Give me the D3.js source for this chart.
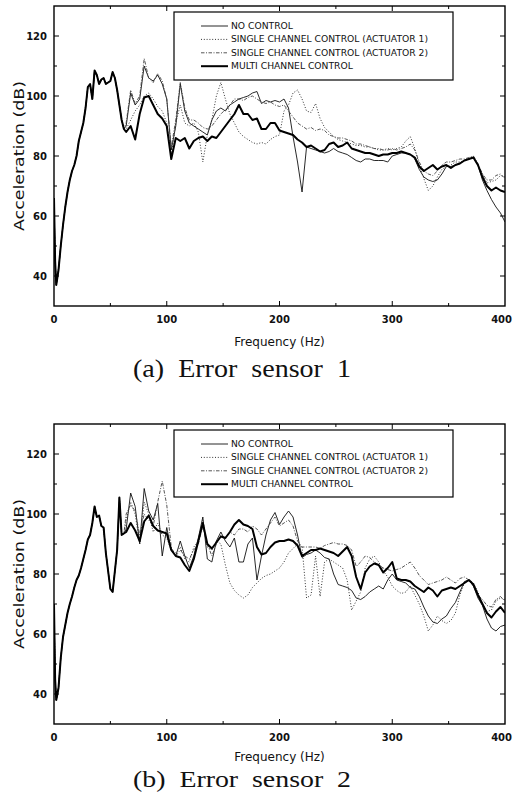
<!DOCTYPE html>
<html>
<head>
<meta charset="utf-8">
<script src="https://cdn.jsdelivr.net/npm/d3@7"></script>
<style>
  body { margin: 0; background: #fff; }
  svg { display: block; }
</style>
</head>
<body>
<div id="chart-area"></div>
<script>
// frequency grid (Hz)
const lowFreq = [0,1,2,4,6,8,10,12,14,16,18,20,22,24,26,28,30,32,34,36,38,40,42,44,46,48,50,52,54,56,58,60,62];
const highFreq = [64,68,72,76,80,84,88,92,96,100,104,108,112,116,120,124,128,132,136,140,
  144,148,152,156,160,164,168,172,176,180,184,188,192,196,200,204,208,212,216,220,
  224,228,232,236,240,244,248,252,256,260,264,268,272,276,280,284,288,292,296,300,
  304,308,312,316,320,324,328,332,336,340,344,348,352,356,360,364,368,372,376,380,
  384,388,392,396,400];
const freq = lowFreq.concat(highFreq);

const seriesNames = ["NO CONTROL", "SINGLE CHANNEL CONTROL (ACTUATOR 1)",
  "SINGLE CHANNEL CONTROL (ACTUATOR 2)", "MULTI CHANNEL CONTROL"];

const xTicks = [0, 100, 200, 300, 400];
const yTicks = [40, 60, 80, 100, 120];

// (a) error sensor 1 -- all curves share the low band
const rise1 = [66,45,37,42,50,57,63,68,72,75, 77,80,85,88,91,96,103,104,99,108.5,
  107,104,105.5,106,104,104.5,105,108,106,102, 97,92,89];
const noCtrl1 = rise1.concat([
  90,101,97,99,110,106,105,107,104,99,
  82,90,104,95,91,90,89,88,87,92,
  95,96,95,97,98,99,99.5,100,101,101.5,
  97.5,98.5,98,98.5,98,99,96,86.5,78,68,
  83,82.5,82,81.5,81,81.5,82.5,81.5,81,80.5,
  79.5,78.5,78,79,79,78.5,78.5,78.5,78,80,
  80.5,81,81,80.5,79,75.5,73,72,71.5,72,
  74,76.5,76.5,77,77.5,78.5,79,79.5,77,72,
  68.5,65.5,63,61,58]);
const act1Ctrl1 = rise1.concat([
  89,92,95,97,100,101,99,96.5,95,91,
  80,91,97,91,90,91,88,78,87,92,
  100,104.5,99,94,91,88,86.5,85.5,84.5,84,
  84.5,84,85.5,86.5,87,95,97,101,102,99,
  95,94.5,97.5,92.5,89.5,88,86.5,85.5,85,84.5,
  84,83.5,83.5,83,83,82.5,82,82,82.5,82,
  82.5,83,85,86.5,82.5,77,72.5,68.5,70,73,
  75.5,76.5,77,78,78,78.5,79,79.5,77,74,
  71,71.5,72,73.5,73]);
const act2Ctrl1 = rise1.concat([
  91,102,97.5,100,112.5,106,104.5,107.5,105,99,
  83,92,104.5,96,92,92,91,89.5,89,90,
  92,94,95.5,97,99,99,98.5,99.5,100,99,
  98,97.5,98,97,96.5,97,95,93,91,90,
  89,89.5,88.5,89,88.5,87,86.5,86,86,85.5,
  85,84,84,83.5,83,82.5,82.5,82,82,82.5,
  82,82.5,83,84,82,78,75,74,73.5,75,
  77,78,78,78.5,79,79,79.5,80,77.5,74,
  72,72,73.5,74,72.5]);
const multi1 = rise1.concat([
  88,90,85.5,94,99.5,100,97,94,92.5,90,
  79,86,85,86,82.5,85,86,86.5,85,86.5,
  86,88,90,92,94,97,94,94,92,92.5,
  89,89,91,91,88.5,88,87.5,87,85.5,84.5,
  83,83.5,82.5,81.5,82,84,84.5,83,83.5,84.5,
  82.5,82,81.5,81,81,80.5,80,80.5,80.5,81,
  81,81.5,81,80.5,79.5,76.5,75,76,77,75.5,
  76.5,77,76,77,77.5,78.5,79,79.5,77,73,
  70,68.5,69.5,68.5,68]);

// (b) error sensor 2
const rise2 = [70,45,38,42,52,59,63,67,70,72.5, 75.5,78,79.5,82,85,88,91.5,93,97,102.5,
  99,99.5,96,95.5,87,81,75,74,81,88, 105.5,93,93.5];
const noCtrl2 = rise2.concat([
  95,107,102.5,90,108.5,101,98,103.5,86,95.5,
  88,86,91,86,82,86,92,99,85,84,
  91,94,91,89,92,84,84,90,92,78,
  86,93,98,100.5,96.5,99,101,99,93,85.5,
  86.5,87,88,87,85.5,85,80,76.5,76,75.5,
  74.5,72,71.5,72.5,74,75,76,75,78,80,
  78,77.5,77,75.5,75,72.5,69,66,64,63.5,
  65,66,68.5,70.5,74,77.5,78,76,72,69.5,
  65,62,61,62.5,63]);
const act1Ctrl2 = rise2.concat([
  98,104,100,90,104,100,94,97,93,92,
  88,87,89,85,84,89,91,98,89,88,
  91,90,83,77,74.5,73,72,73,75.5,77,
  78.5,79.5,80,81,82,84,87,88.5,90,89,
  72,73,86,72.5,84,85,84,83,82,78,
  68,71,74,82,85,86,84,81,79,76,
  74.5,73.5,74,76,73,70,66,61,63,66,
  64.5,63.5,64.5,67,73,77,78,77,74,70,
  67.5,68,71,72,71.5]);
const act2Ctrl2 = rise2.concat([
  100,103,101,93,100,98,96,104,111,103,
  89,86,88,86,85,88,90,96,90,86,
  90,93,92,94,93,95,95,94,96,95,
  93,95,97,99,96,97,98,96,91,89,
  89,89,89,88.5,89.5,90,90.5,90,90,89.5,
  88,82.5,84,86,85.5,84,83,82,81.5,81,
  81.5,82,83,84,82,79.5,78,76.5,77,77.5,
  78,79,78,77,78.5,79,78,76,73,71.5,
  69.5,69,71.5,72.5,71]);
const multi2 = rise2.concat([
  94,97,94.5,91,97.5,99.5,96,94.5,94,93.5,
  88,86,85.5,83,81,85,91,97,90,88.5,
  90.5,92.5,92,94,96.5,98,96.5,96,95,89,
  86.5,87,89,90.5,91,91,91.5,91,89.5,86,
  87,88,88,88.5,88,87.5,87,86,87.5,89,
  86,79,75,80.5,82.5,83.5,83,80.5,82,84,
  78.5,78,78,77.5,76,75,74,75.5,74.5,72.5,
  74.5,75,75.5,75,76,77,78,76.5,73,70,
  67,65.5,67.5,69,67]);

const lineStyles = [
  { width: 0.9, dash: null, color: "#111" },
  { width: 1.0, dash: "1,1.8", color: "#333" },
  { width: 0.9, dash: "3.5,1.5,1,1.5", color: "#444" },
  { width: 2.0, dash: null, color: "#000" }
];

const panels = [
  { top: 6, bottom: 306, legendY: 12, legendH: 68, freqY: 346, captionY: 377, captionSize: 25,
    caption: "(a)  Error  sensor  1", data: [noCtrl1, act1Ctrl1, act2Ctrl1, multi1] },
  { top: 424, bottom: 724, legendY: 430, legendH: 67, freqY: 761, captionY: 787, captionSize: 24,
    caption: "(b)  Error  sensor  2", data: [noCtrl2, act1Ctrl2, act2Ctrl2, multi2] }
];

const left = 54, right = 505;

var svg = d3.select("#chart-area").append("svg")
    .attr("width", 513)
    .attr("height", 796);

var x = d3.scaleLinear().domain([0, 400]).range([left, right]);

panels.forEach((p, pi) => {
    var y = d3.scaleLinear().domain([30, 130]).range([p.bottom, p.top]);
    var g = svg.append("g");

    g.append("clipPath").attr("id", "clip" + pi)
      .append("rect")
        .attr("x", left).attr("y", p.top)
        .attr("width", right - left).attr("height", p.bottom - p.top);

    var line = d3.line()
        .x((d, i) => x(freq[i]))
        .y((d) => y(d));

    var plot = g.append("g").attr("clip-path", "url(#clip" + pi + ")");
    p.data.forEach((vals, si) => {
        var s = lineStyles[si];
        plot.append("path")
            .datum(vals)
            .attr("d", line)
            .attr("fill", "none")
            .attr("stroke", s.color)
            .attr("stroke-width", s.width)
            .attr("stroke-linejoin", "round")
            .attr("stroke-dasharray", s.dash);
    });

    // frame
    g.append("rect")
        .attr("x", left).attr("y", p.top)
        .attr("width", right - left).attr("height", p.bottom - p.top)
        .attr("fill", "none").attr("stroke", "#000").attr("stroke-width", 1.4);

    // inward ticks
    var xMinor = [50, 150, 250, 350];
    var yMinor = [50, 70, 90, 110];
    var ticks = g.append("g").attr("stroke", "#000").attr("stroke-width", 1);
    xTicks.slice(1, -1).forEach((t) => {
        ticks.append("line").attr("x1", x(t)).attr("x2", x(t)).attr("y1", p.bottom).attr("y2", p.bottom - 5);
        ticks.append("line").attr("x1", x(t)).attr("x2", x(t)).attr("y1", p.top).attr("y2", p.top + 5);
    });
    xMinor.forEach((t) => {
        ticks.append("line").attr("x1", x(t)).attr("x2", x(t)).attr("y1", p.bottom).attr("y2", p.bottom - 3);
        ticks.append("line").attr("x1", x(t)).attr("x2", x(t)).attr("y1", p.top).attr("y2", p.top + 3);
    });
    yTicks.forEach((t) => {
        ticks.append("line").attr("x1", left).attr("x2", left + 5).attr("y1", y(t)).attr("y2", y(t));
        ticks.append("line").attr("x1", right).attr("x2", right - 5).attr("y1", y(t)).attr("y2", y(t));
    });
    yMinor.forEach((t) => {
        ticks.append("line").attr("x1", left).attr("x2", left + 3).attr("y1", y(t)).attr("y2", y(t));
        ticks.append("line").attr("x1", right).attr("x2", right - 3).attr("y1", y(t)).attr("y2", y(t));
    });

    // tick labels (last one pulled in so it stays on the page)
    g.selectAll(".xl").data(xTicks).enter().append("text")
        .attr("x", (d) => d === 400 ? 512 : x(d)).attr("y", p.bottom + 17)
        .attr("text-anchor", (d) => d === 400 ? "end" : "middle")
        .attr("font-family", "DejaVu Sans").attr("font-size", 10).attr("font-weight", "bold")
        .attr("fill", "#111")
        .text((d) => d);
    g.selectAll(".yl").data(yTicks).enter().append("text")
        .attr("x", left - 7).attr("y", (d) => y(d) + 4)
        .attr("text-anchor", "end")
        .attr("font-family", "DejaVu Sans").attr("font-size", 10).attr("font-weight", "bold")
        .attr("fill", "#111")
        .text((d) => d);

    // axis titles
    g.append("text")
        .attr("transform", "translate(24," + ((p.top + p.bottom) / 2) + ") rotate(-90)")
        .attr("text-anchor", "middle")
        .attr("font-family", "DejaVu Sans").attr("font-size", 14)
        .attr("textLength", 150).attr("lengthAdjust", "spacingAndGlyphs")
        .attr("fill", "#111")
        .text("Acceleration (dB)");
    g.append("text")
        .attr("x", (left + right) / 2).attr("y", p.freqY)
        .attr("text-anchor", "middle")
        .attr("font-family", "DejaVu Sans").attr("font-size", 12)
        .attr("fill", "#111")
        .text("Frequency (Hz)");

    // caption
    g.append("text")
        .attr("x", 242).attr("y", p.captionY)
        .attr("text-anchor", "middle")
        .attr("font-family", "Liberation Serif").attr("font-size", p.captionSize)
        .attr("textLength", 218).attr("lengthAdjust", "spacingAndGlyphs")
        .attr("fill", "#111")
        .style("white-space", "pre")
        .text(p.caption);

    // legend
    var lg = g.append("g");
    lg.append("rect")
        .attr("x", 174).attr("y", p.legendY)
        .attr("width", 279).attr("height", p.legendH)
        .attr("fill", "#fff").attr("stroke", "#000").attr("stroke-width", 1.2);
    seriesNames.forEach((name, si) => {
        var ly = p.legendY + 14 + si * 13.4;
        var s = lineStyles[si];
        lg.append("line")
            .attr("x1", 201).attr("x2", 228).attr("y1", ly).attr("y2", ly)
            .attr("stroke", s.color).attr("stroke-width", s.width)
            .attr("stroke-dasharray", s.dash);
        lg.append("text")
            .attr("x", 231).attr("y", ly + 3)
            .attr("font-family", "DejaVu Sans").attr("font-size", 9.2)
            .attr("fill", "#111")
            .text(name);
    });
});
</script>
</body>
</html>
